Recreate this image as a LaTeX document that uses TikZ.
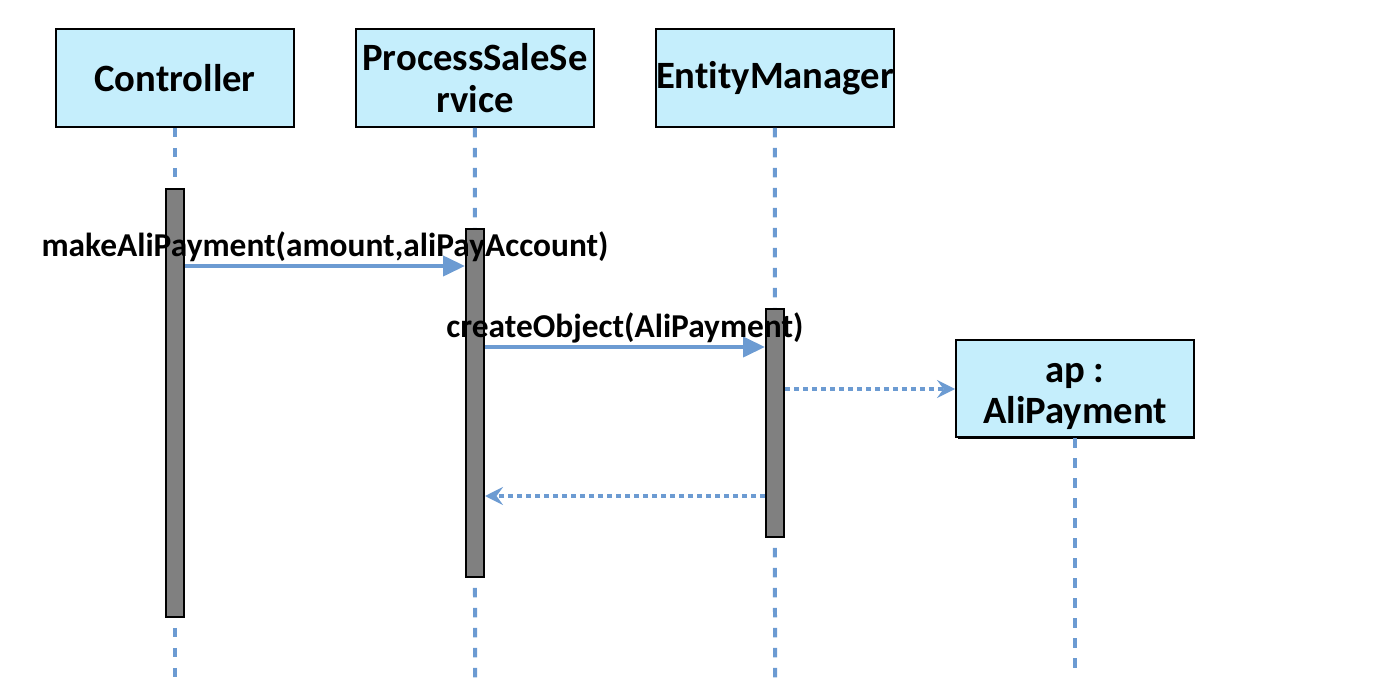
\documentclass[tikz,border=0pt]{standalone}
\usepackage{fontspec}
\setmainfont[RawFeature=-liga]{Carlito}
\usetikzlibrary{arrows.meta,positioning,shadows}

\definecolor{lineblue}{RGB}{108,155,210}
\definecolor{boxcyan}{RGB}{197,238,252}
\definecolor{bargray}{RGB}{128,128,128}

\tikzset{
  object/.style={rectangle, draw=black, line width=0.04cm, fill=boxcyan,
    minimum width=4.76cm, minimum height=1.96cm, inner xsep=0pt, align=center,
    font=\fontsize{22}{23.5}\selectfont\bfseries,
    drop shadow={shadow xshift=0.03cm, shadow yshift=-0.03cm, fill=black, opacity=1}},
  activation/.style={rectangle, draw=black, line width=0.04cm, fill=bargray,
    minimum width=0.36cm, inner sep=0pt,
    drop shadow={shadow xshift=0.02cm, shadow yshift=-0.02cm, fill=black, opacity=1}},
  lifeline/.style={draw=lineblue, line width=0.08cm, dash pattern=on 0.19cm off 0.21cm},
  msg/.style={draw=lineblue, line width=0.08cm, -{Triangle[length=0.44cm,width=0.4cm]}},
  reply/.style={draw=lineblue, line width=0.08cm, dash pattern=on 0.1cm off 0.08cm,
    -{Stealth[length=0.36cm,width=0.36cm,inset=0.13cm]}},
  msglabel/.style={above, inner sep=1pt, font=\fontsize{19}{22}\selectfont\bfseries}
}

\begin{document}
\begin{tikzpicture}[x=0.02cm, y=-0.02cm, node distance=6cm, on grid]
  \useasboundingbox (0,0) rectangle (1398,679);

  % objects
  \node[object] (ctrl) at (175,78) {Controller};
  \node[object] (pss) [right=of ctrl] {ProcessSaleSe\\rvice};
  \node[object] (em) [right=of pss] {EntityManager};
  \node[object, inner ysep=0pt] (ap) at (1075,388.5) {\rule{0pt}{0.7cm}ap :\\AliPayment};

  % lifelines
  \coordinate (ctrlEnd) at (175,679);
  \coordinate (pssEnd) at (475,679);
  \coordinate (emEnd) at (775,679);
  \coordinate (apEnd) at (1075,668);
  \draw[lifeline] (ctrl.south) -- (ctrlEnd);
  \draw[lifeline] (pss.south) -- (pssEnd);
  \draw[lifeline] (em.south) -- (emEnd);
  \draw[lifeline] (ap.south) -- (apEnd);

  % activation bars
  \node[activation, minimum height=8.56cm] (actC) at (175,403) {};
  \node[activation, minimum height=6.96cm] (actP) at (475,403) {};
  \node[activation, minimum height=4.56cm] (actE) at (775,423) {};

  % messages
  \coordinate (m1) at (0,266);
  \coordinate (m2) at (0,347);
  \coordinate (m3) at (0,389);
  \coordinate (m4) at (0,496);
  \draw[msg] (actC.east |- m1) -- node[msglabel] {makeAliPayment(amount,aliPayAccount)} (actP.west |- m1);
  \draw[msg] (actP.east |- m2) -- node[msglabel] {createObject(AliPayment)} (actE.west |- m2);
  \draw[reply] (actE.east |- m3) -- (ap.west |- m3);
  \draw[reply] (actE.west |- m4) -- (actP.east |- m4);
\end{tikzpicture}
\end{document}
